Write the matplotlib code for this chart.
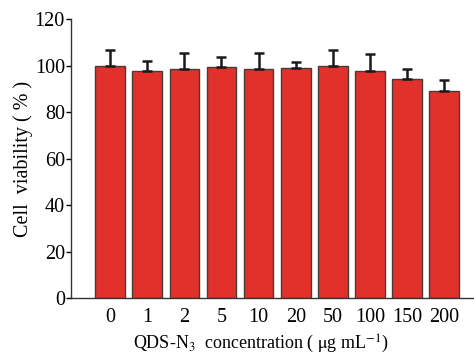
import matplotlib
matplotlib.use("Agg")
import matplotlib.pyplot as plt
import numpy as np

categories = ["0", "1", "2", "5", "10", "20", "50", "100", "150", "200"]
viability = [100.0, 97.5, 98.6, 99.4, 98.6, 99.0, 99.7, 97.6, 94.2, 89.2]
errors = [6.7, 4.5, 6.7, 4.4, 7.0, 2.4, 7.2, 7.2, 4.2, 4.6]
yticks = [0, 20, 40, 60, 80, 100, 120]

plt.rcParams['font.family'] = ['Liberation Serif', 'DejaVu Serif']
plt.rcParams['mathtext.fontset'] = 'stix'

fig = plt.figure(figsize=(4.74, 3.54), dpi=100)
ax = fig.add_axes([0.15, 0.158, 0.85, 0.788])

x = np.arange(len(categories))
ax.bar(x, viability, width=0.8, color='#E2312B', edgecolor='#4a3a3a', linewidth=1.0,
       yerr=[np.zeros(len(errors)), errors], error_kw=dict(ecolor='#1a1a1a', elinewidth=1.8,
       capsize=3.5, capthick=1.8), zorder=2)

ax.set_xlim(-1.05, 9.8)
ax.set_ylim(0, 120)
ax.set_yticks(yticks)
ax.set_xticks(x)
ax.set_xticklabels(categories)
ax.tick_params(axis='x', length=0, labelsize=14.5, pad=7)
ax.tick_params(axis='y', direction='out', length=3.5, width=1, labelsize=14.5, pad=1)
for s in ['top', 'right']:
    ax.spines[s].set_visible(False)
for s in ['left', 'bottom']:
    ax.spines[s].set_linewidth(1.0)
    ax.spines[s].set_color('#333333')

ax.set_ylabel('Cell  viability ( % )', fontsize=14.5)
ax.yaxis.set_label_coords(-0.095, 0.5)
ax.set_xlabel(r'QDS-N$_3$  concentration ( $\mathrm{\mu}$g mL$^{-1}$)', fontsize=13)
ax.xaxis.set_label_coords(0.47, -0.163)
ax.xaxis.label.set_va('center')

fig.savefig('out.png', dpi=100)
